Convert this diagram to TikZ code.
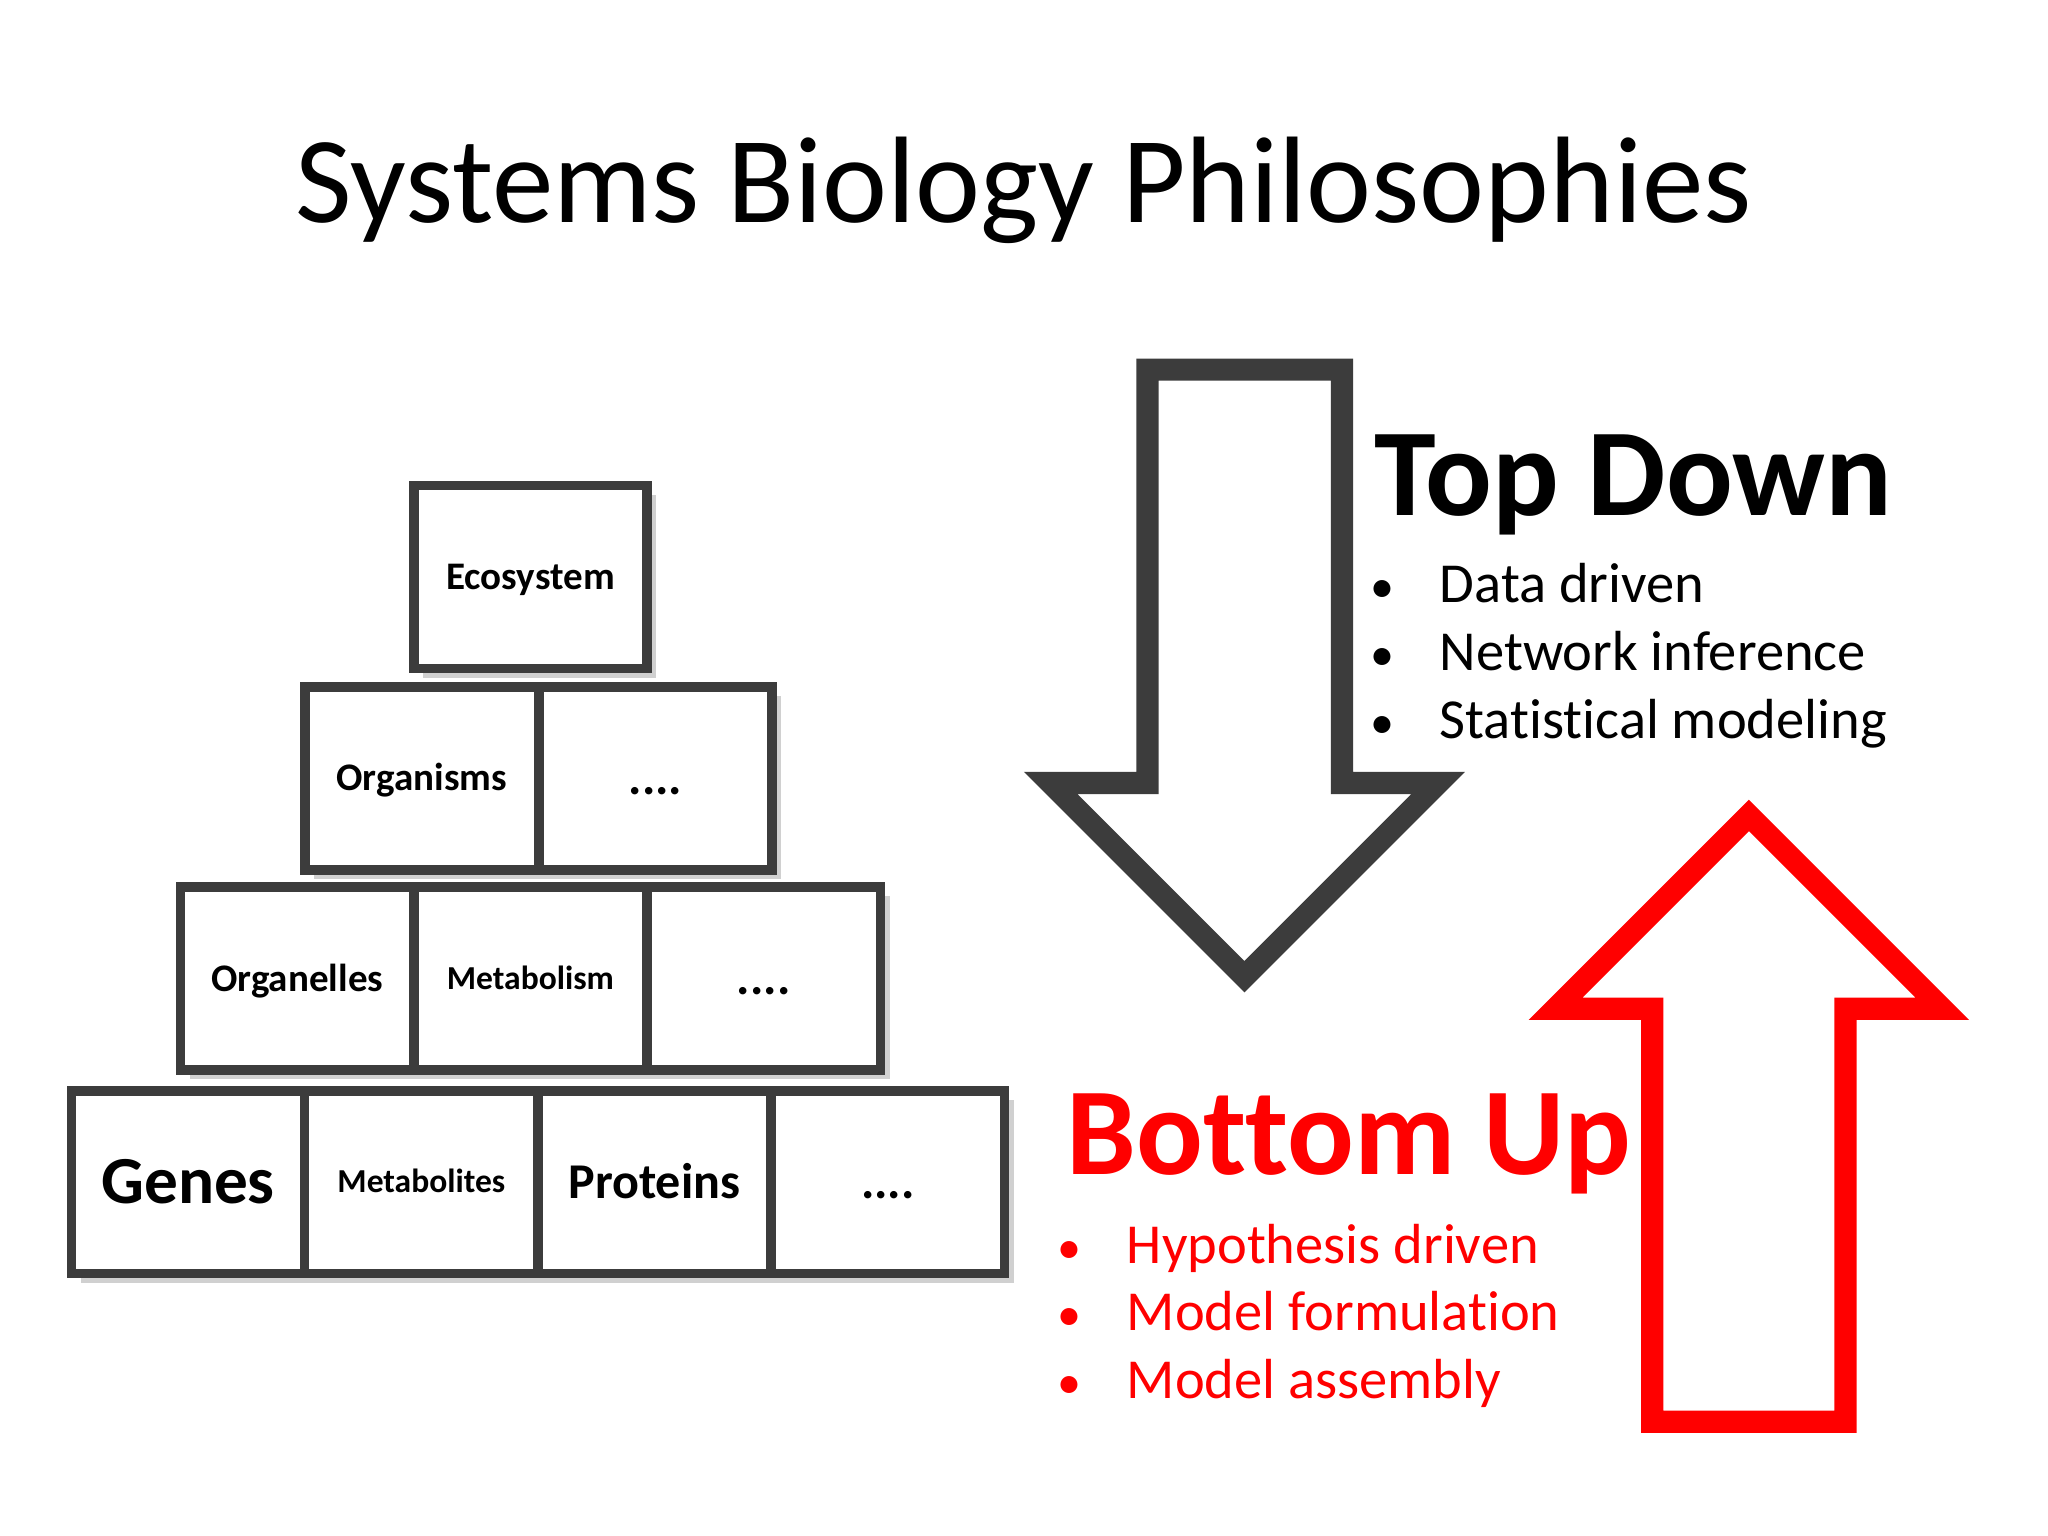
\documentclass[tikz,border=0pt]{standalone}
\usepackage{fontspec}
\newfontfamily\calibri[Ligatures=NoCommon]{Carlito}
\usetikzlibrary{shadows}
\definecolor{grisfonce}{RGB}{60,60,60}
\definecolor{rouge}{RGB}{255,0,0}
\newcommand\Puce[1]{\makebox[0.2cm][c]{\scalebox{0.85}{\textbullet}}\hspace{0.34cm}#1}

\begin{document}
\begin{tikzpicture}[x=0.01cm,y=-0.01cm]
% Styles (MODIFIABLES)
\tikzstyle{case}=[draw=grisfonce,line width=0.074cm,fill=white,minimum width=1.786cm,minimum height=1.40cm,inner sep=0pt,text depth=0pt,drop shadow={shadow xshift=0.07cm,shadow yshift=-0.07cm,fill=black!30,opacity=0.6}]
\tikzstyle{petit}=[font=\calibri\bfseries\fontsize{7.3}{9}\selectfont,text height=4.6pt]
\tikzstyle{moyen}=[font=\calibri\bfseries\fontsize{8.5}{10}\selectfont,text height=5.4pt]
\tikzstyle{grand}=[font=\calibri\bfseries\fontsize{10.9}{13}\selectfont,text height=6.9pt]
\tikzstyle{enorme}=[font=\calibri\bfseries\fontsize{14.65}{17}\selectfont,text height=9.25pt]
\tikzstyle{titre}=[font=\calibri\fontsize{26.8}{32}\selectfont,anchor=base,inner sep=0pt]
\tikzstyle{entete}=[font=\calibri\bfseries\fontsize{27.1}{32}\selectfont,anchor=base west,inner sep=0pt]
\tikzstyle{item}=[font=\calibri\fontsize{12.3}{15}\selectfont,anchor=base west,inner sep=0pt]
\tikzstyle{grossefleche}=[line width=0.17cm,line join=miter]
% Niveaux de la pyramide (MODIFIABLES)
\def\NiveauA{441.8}
\def\NiveauB{596}
\def\NiveauC{749.4}
\def\NiveauD{905.1}
% Cadre
\fill[white] (0,0) rectangle (1568,1176);
\useasboundingbox (0,0) rectangle (1568,1176);
% Titre
\node[titre] (titre) at (784,170) {Systems Biology Philosophies};
% Pyramide
\node[case,moyen] (eco) at (406.2,\NiveauA) {Ecosystem};
\node[case,moyen] (organismes) at (322.9,\NiveauB) {Organisms};
\node[case,grand] (pointsB) at (501.8,\NiveauB) {....};
\node[case,moyen] (organites) at (227.6,\NiveauC) {Organelles};
\node[case,petit] (metabolisme) at (406.1,\NiveauC) {Metabolism};
\node[case,grand] (pointsC) at (584.7,\NiveauC) {....};
\node[case,enorme] (genes) at (144,\NiveauD) {Genes};
\node[case,petit] (metabolites) at (322.6,\NiveauD) {Metabolites};
\node[case,grand] (proteines) at (501,\NiveauD) {Proteins};
\node[case,grand] (pointsD) at (679.7,\NiveauD) {....};
% Fleches
\draw[grossefleche,grisfonce] (878.5,283) -- (1027.5,283) -- (1027.5,599.5) -- (1101,599.5) -- (952.75,747.75) -- (804.5,599.5) -- (878.5,599.5) -- cycle;
\draw[grossefleche,rouge] (1265,1088.6) -- (1413,1088.6) -- (1413,772.4) -- (1487.1,772.4) -- (1339,624.3) -- (1190.9,772.4) -- (1265,772.4) -- cycle;
% Top Down
\node[entete] (topdown) at (1052,395) {Top Down};
\node[item] (td1) at (1047.6,461.5) {\Puce{Data driven}};
\node[item] (td2) at (1047.6,513.5) {\Puce{Network inference}};
\node[item] (td3) at (1047.6,565.5) {\Puce{Statistical modeling}};
% Bottom Up
\node[entete,rouge] (bottomup) at (816,899.6) {Bottom Up};
\node[item,rouge] (bu1) at (808,967) {\Puce{Hypothesis driven}};
\node[item,rouge] (bu2) at (808,1019) {\Puce{Model formulation}};
\node[item,rouge] (bu3) at (808,1071) {\Puce{Model assembly}};
\end{tikzpicture}
\end{document}
